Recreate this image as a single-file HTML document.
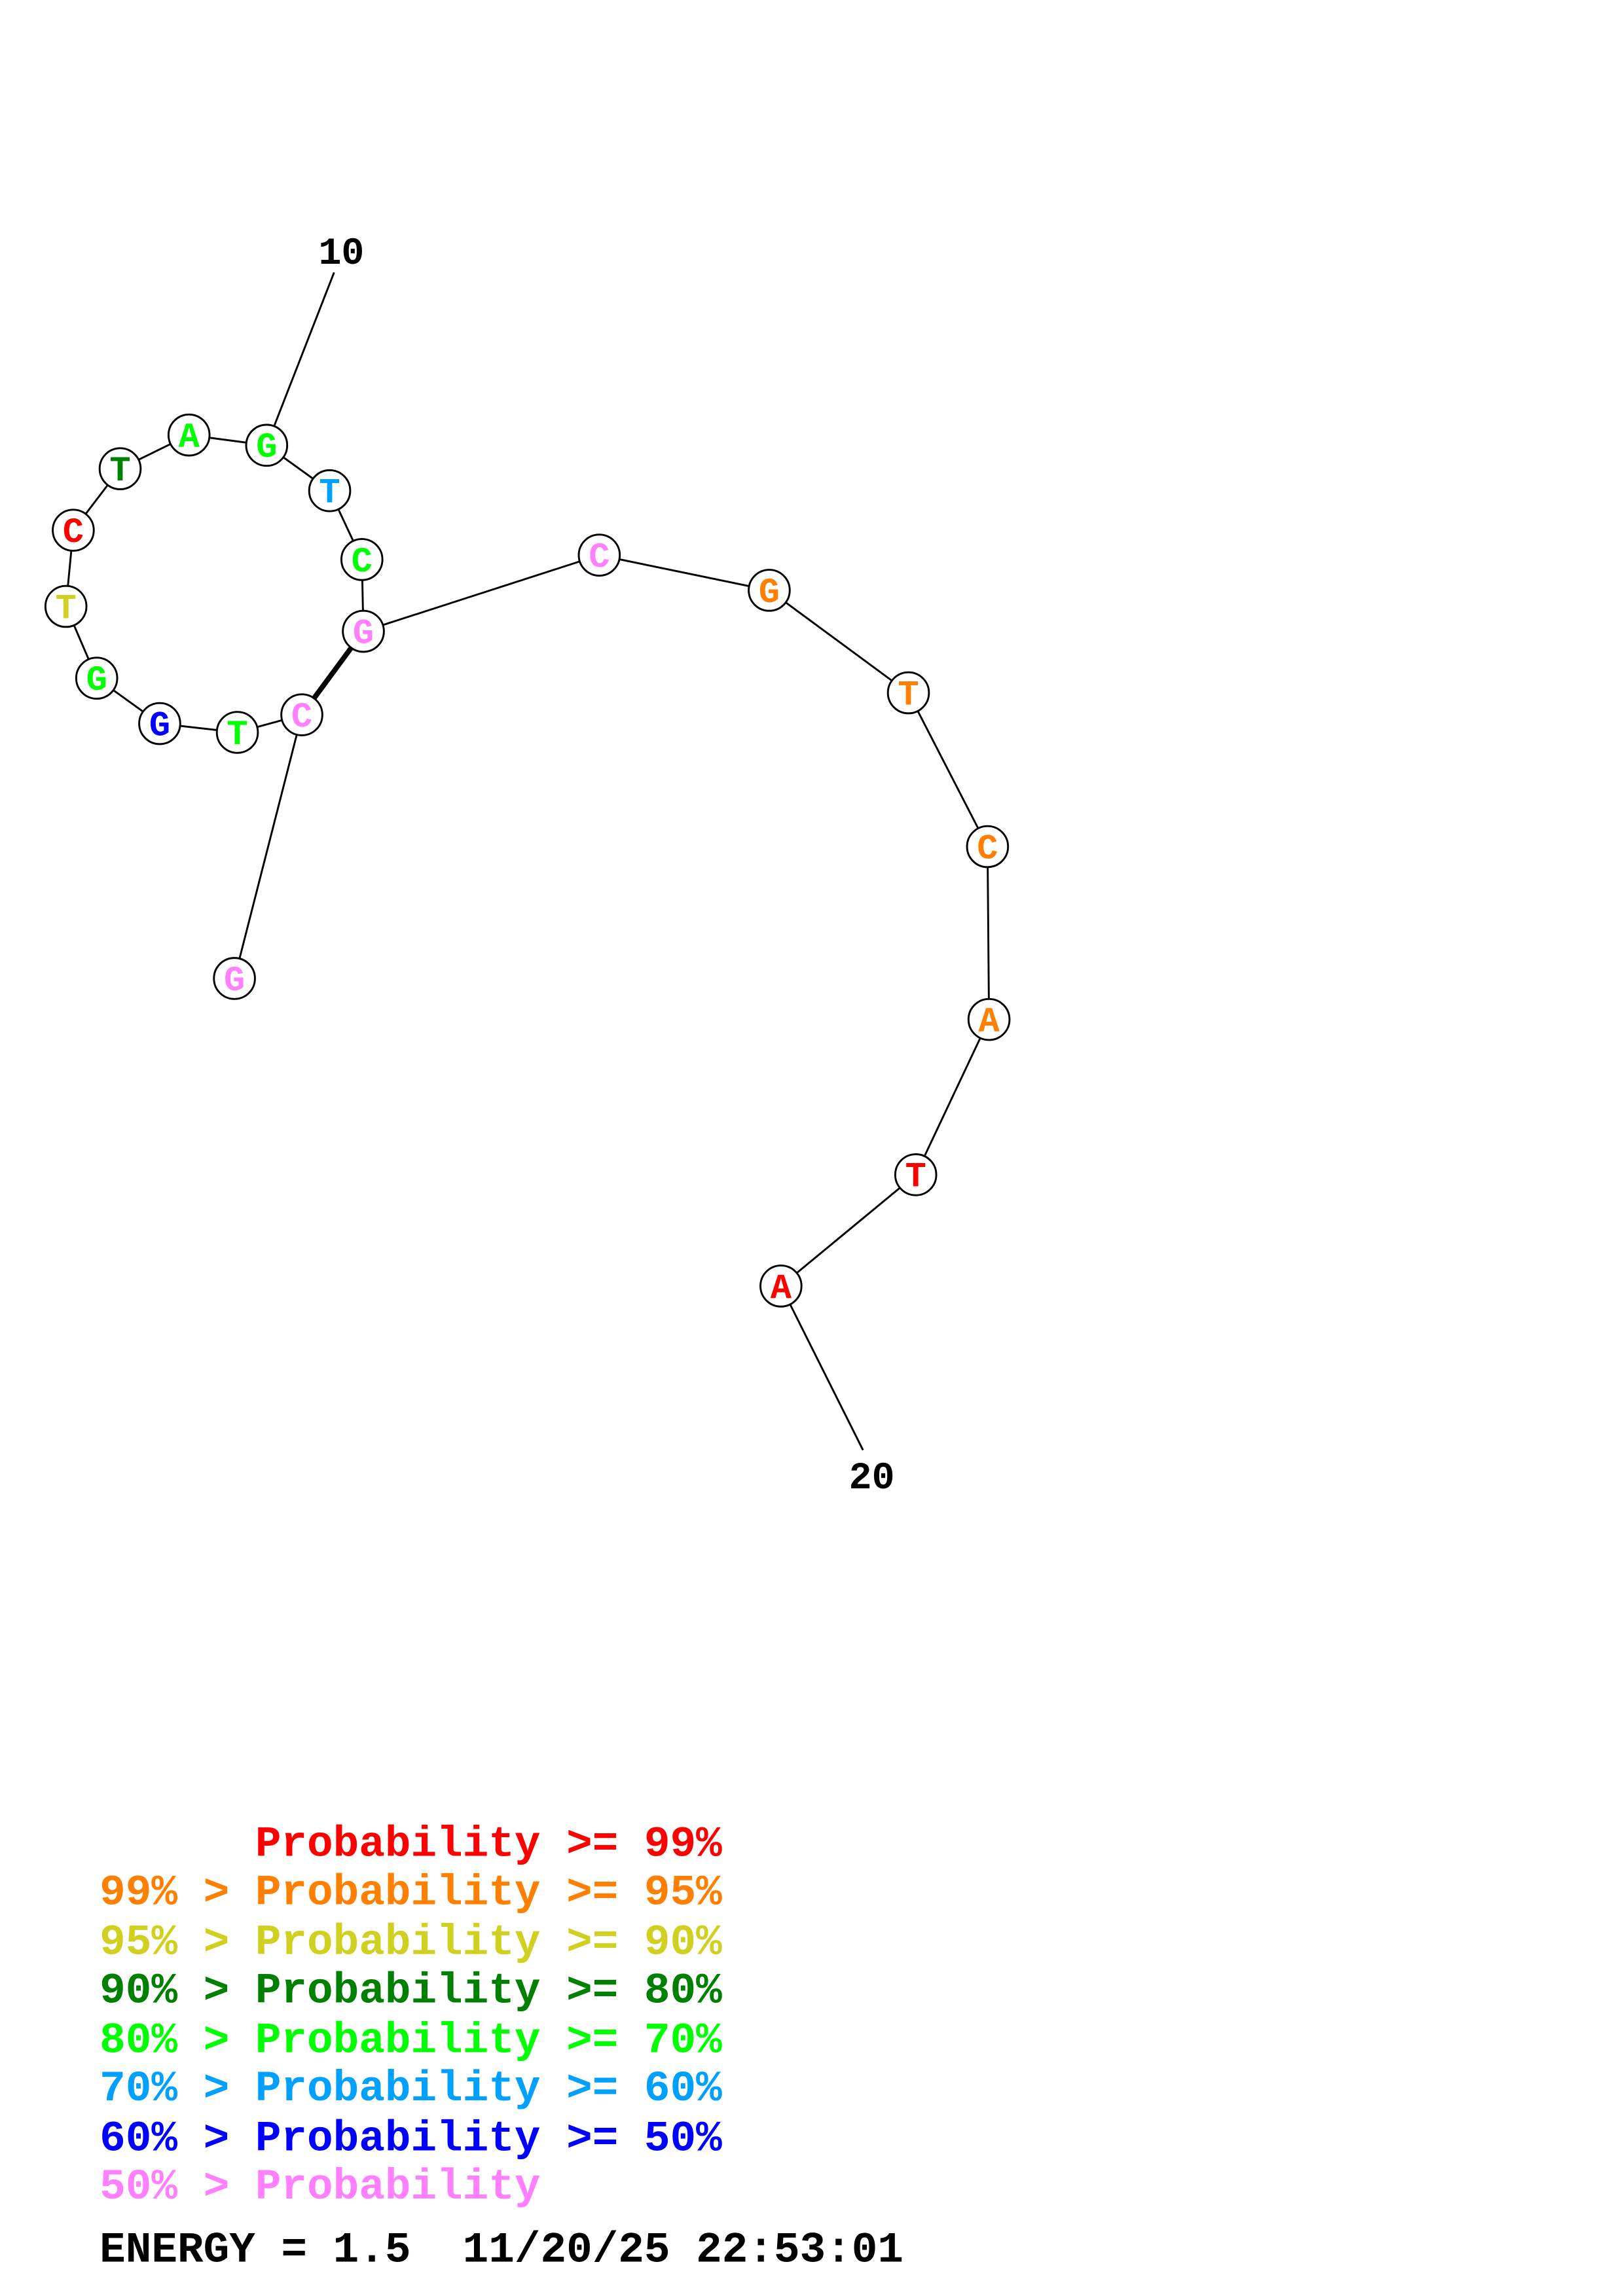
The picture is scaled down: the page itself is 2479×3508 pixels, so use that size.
<!DOCTYPE html>
<html><head><meta charset="utf-8"><style>
html,body{margin:0;padding:0;background:#fff;}
svg{display:block;}
</style></head><body>
<svg width="2479" height="3508" viewBox="0 0 1107.7 1567.5" xmlns="http://www.w3.org/2000/svg">
<rect width="1108" height="1568" fill="#fff"/>
<g stroke="#000" stroke-width="1.3" fill="none">
<polyline points="228,186 182,304 225,335 247,382 248,431"/>
<polyline points="206,488 162,500 109,494 66,463 45,414 50,362 82,320 129,297 182,304"/>
<line x1="248" y1="431" x2="206" y2="488" stroke-width="3.5"/>
<line x1="206" y1="488" x2="160" y2="668"/>
<polyline points="248,431 409,379 525,403 620,473 674,578 675,696 625,802 533,878 589,990"/>
</g>
<g stroke="#000" stroke-width="1.3" fill="#fff">
<circle cx="182" cy="304" r="14"/><circle cx="225" cy="335" r="14"/><circle cx="247" cy="382" r="14"/>
<circle cx="248" cy="431" r="14"/><circle cx="206" cy="488" r="14"/><circle cx="162" cy="500" r="14"/>
<circle cx="109" cy="494" r="14"/><circle cx="66" cy="463" r="14"/><circle cx="45" cy="414" r="14"/>
<circle cx="50" cy="362" r="14"/><circle cx="82" cy="320" r="14"/><circle cx="129" cy="297" r="14"/>
<circle cx="160" cy="668" r="14"/><circle cx="409" cy="379" r="14"/><circle cx="525" cy="403" r="14"/>
<circle cx="620" cy="473" r="14"/><circle cx="674" cy="578" r="14"/><circle cx="675" cy="696" r="14"/>
<circle cx="625" cy="802" r="14"/><circle cx="533" cy="878" r="14"/>
</g>
<g font-family="Liberation Mono, monospace" font-weight="bold" font-size="24" text-anchor="middle">
<text x="182" y="312" fill="#00ff00">G</text>
<text x="225" y="343" fill="#00a0ff">T</text>
<text x="247" y="390" fill="#00ff00">C</text>
<text x="248" y="439" fill="#ff80ff">G</text>
<text x="206" y="496" fill="#ff80ff">C</text>
<text x="162" y="508" fill="#00ff00">T</text>
<text x="109" y="502" fill="#0000ff">G</text>
<text x="66" y="471" fill="#00ff00">G</text>
<text x="45" y="422" fill="#d0d020">T</text>
<text x="50" y="370" fill="#ff0000">C</text>
<text x="82" y="328" fill="#008000">T</text>
<text x="129" y="305" fill="#00ff00">A</text>
<text x="160" y="676" fill="#ff80ff">G</text>
<text x="409" y="387" fill="#ff80ff">C</text>
<text x="525" y="411" fill="#ff8000">G</text>
<text x="620" y="481" fill="#ff8000">T</text>
<text x="674" y="586" fill="#ff8000">C</text>
<text x="675" y="704" fill="#ff8000">A</text>
<text x="625" y="810" fill="#ff0000">T</text>
<text x="533" y="886" fill="#ff0000">A</text>
</g>
<g font-family="Liberation Mono, monospace" font-weight="bold" font-size="26" text-anchor="middle" fill="#000">
<text x="233" y="180">10</text>
<text x="595" y="1016">20</text>
</g>
<g font-family="Liberation Mono, monospace" font-weight="bold" font-size="29.5">
<text x="68" y="1267" fill="#ff0000">&#160;&#160;&#160;&#160;&#160;&#160;Probability &gt;= 99%</text>
<text x="68" y="1300" fill="#ff8000">99% &gt; Probability &gt;= 95%</text>
<text x="68" y="1334" fill="#d0d020">95% &gt; Probability &gt;= 90%</text>
<text x="68" y="1367" fill="#008000">90% &gt; Probability &gt;= 80%</text>
<text x="68" y="1401" fill="#00ff00">80% &gt; Probability &gt;= 70%</text>
<text x="68" y="1434" fill="#00a0ff">70% &gt; Probability &gt;= 60%</text>
<text x="68" y="1468" fill="#0000ff">60% &gt; Probability &gt;= 50%</text>
<text x="68" y="1501" fill="#ff80ff">50% &gt; Probability</text>
<text x="68" y="1544" fill="#000">ENERGY = 1.5&#160;&#160;11/20/25 22:53:01</text>
</g>
</svg>
</body></html>
